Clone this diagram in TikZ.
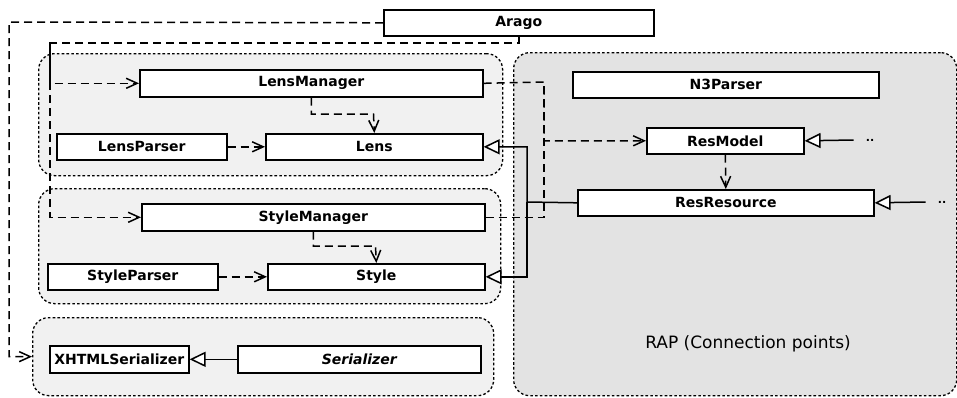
\documentclass[tikz,border=0pt]{standalone}
\usepackage{fontspec}
\setmainfont{DejaVu Sans}
\usetikzlibrary{arrows.meta}
\definecolor{grpfill}{HTML}{F1F1F1}
\definecolor{rapfill}{HTML}{E3E3E3}
\begin{document}
\begin{tikzpicture}[x=1pt,y=-1pt,
  cls/.style={draw, line width=1.6pt, fill=white, inner sep=0pt, anchor=north west,
    font=\bfseries\fontsize{14}{16}\selectfont},
  grp/.style={draw, line width=1.3pt, dash pattern=on 2.6pt off 2.2pt, rounded corners=16pt,
    fill=grpfill, inner sep=0pt, anchor=north west},
  dep/.style={line width=1.5pt, dash pattern=on 8pt off 5pt,
    -{Straight Barb[length=11pt,width=10pt,line width=1.5pt]}},
  depline/.style={line width=1.5pt, dash pattern=on 8pt off 5pt},
  gen/.style={line width=1.5pt, -{Triangle[length=16pt,width=15pt,fill=white,line width=1.5pt]}},
  dotsn/.style={inner xsep=12pt, inner ysep=0pt, font=\bfseries\fontsize{11}{11}\selectfont}
]
\useasboundingbox (0,0) rectangle (957,397);

% groups
\node[grp, fill=rapfill, minimum width=443pt, minimum height=343pt] (rap) at (513,52) {};
\node[grp, minimum width=464pt, minimum height=122pt] (lensgrp) at (38,53) {};
\node[grp, minimum width=462pt, minimum height=115pt] (stylegrp) at (38,188) {};
\node[grp, minimum width=461pt, minimum height=78pt] (xg) at (32,317) {};

\node[font=\fontsize{17}{20}\selectfont] (rapl) at (748,344) {RAP (Connection points)};

% classes
\node[cls, minimum width=270pt, minimum height=26pt] (arago) at (383,9) {Arago};
\node[cls, minimum width=343pt, minimum height=27pt] (lm) at (139,69) {LensManager};
\node[cls, minimum width=170pt, minimum height=26pt] (lp) at (56,133) {LensParser};
\node[cls, minimum width=217pt, minimum height=26pt] (lens) at (265,133) {Lens};
\node[cls, minimum width=343pt, minimum height=27pt] (sm) at (141,203) {StyleManager};
\node[cls, minimum width=170pt, minimum height=26pt] (sp) at (47,263) {StyleParser};
\node[cls, minimum width=217pt, minimum height=26pt] (style) at (267,263) {Style};
\node[cls, minimum width=139pt, minimum height=27pt] (xs) at (49,345) {XHTMLSerializer};
\node[cls, minimum width=243pt, minimum height=27pt, font=\bfseries\itshape\fontsize{14}{16}\selectfont] (ser) at (237,345) {Serializer};
\node[cls, minimum width=306pt, minimum height=26pt] (n3) at (572,71) {N3Parser};
\node[cls, minimum width=157pt, minimum height=26pt] (rm) at (646,127) {ResModel};
\node[cls, minimum width=296pt, minimum height=26pt] (rr) at (577,189) {ResResource};

\node[dotsn] (d1) at (870,140) {..};
\node[dotsn] (d2) at (942,202) {..};

% coordinates
\coordinate (c1) at (9,22);
\coordinate (c2) at (50,43);
\coordinate (c3) at (544,82);
\coordinate (c4) at (373.5,114);
\coordinate (c5) at (375.5,246);
\coordinate (c6) at (527,202);

% Arago dependencies
\draw[dep] (arago.west) -- (c1) |- (xg.west);
\draw[dep] (arago.south) |- (c2) |- (lm.west);
\draw[dep] (c2) |- (sm.west);

% managers to ResModel
\draw[dep] (lm.east) -- (c3) |- (rm.west);
\draw[depline] (sm.east) -| (c3);

% internal dependencies
\draw[dep] (lm.south) |- (c4) -- (lens.north);
\draw[dep] (lp.east) -- (lens.west);
\draw[dep] (sm.south) |- (c5) -- (style.north);
\draw[dep] (sp.east) -- (style.west);
\draw[dep] (rm.south) -- (rr.north);

% generalisations
\draw[gen] (ser.west) -- (xs.east);
\draw[gen] (rr.west) -- (c6) |- (lens.east);
\draw[gen] (c6) |- (style.east);
\draw[gen] (d1.west) -- (rm.east);
\draw[gen] (d2.west) -- (rr.east);
\end{tikzpicture}
\end{document}
